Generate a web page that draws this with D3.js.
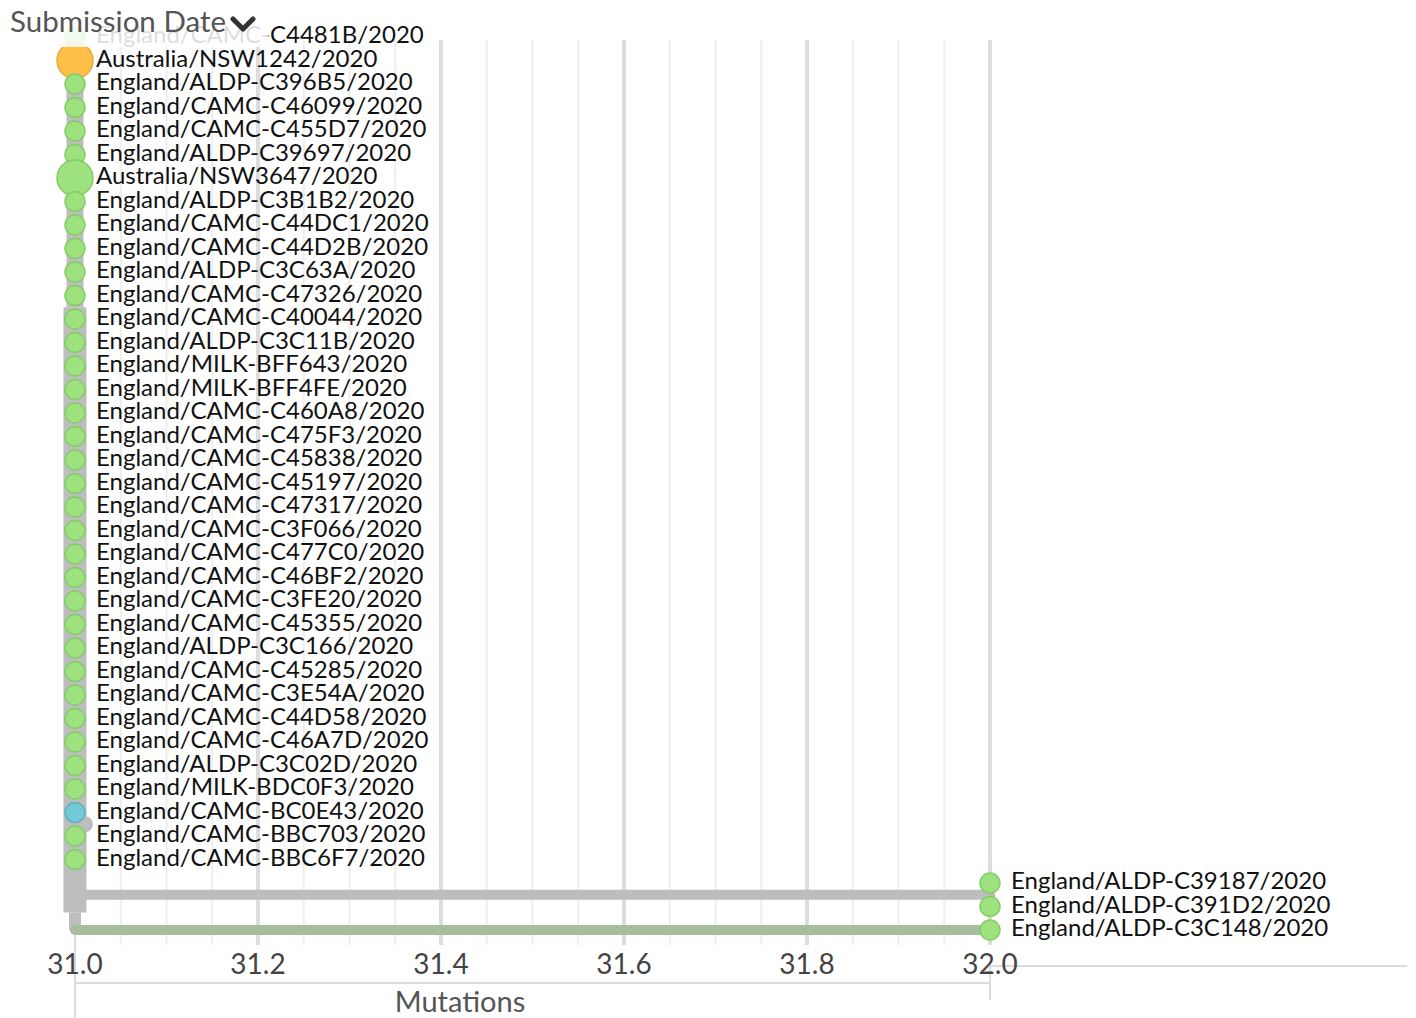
<!DOCTYPE html>
<html>
<head>
<meta charset="utf-8">
<script src="https://cdn.jsdelivr.net/npm/d3@7"></script>
<style>
  html, body { margin: 0; padding: 0; background: #fff; }
  svg { display: block; font-family: Lato, "Open Sans", sans-serif; }
</style>
</head>
<body>
<svg id="tree" width="1416" height="1018"></svg>
<script>
// Tip strains, top to bottom in tree order
const tipNames = [
  "England/CAMC-C4481B/2020",
  "Australia/NSW1242/2020",
  "England/ALDP-C396B5/2020",
  "England/CAMC-C46099/2020",
  "England/CAMC-C455D7/2020",
  "England/ALDP-C39697/2020",
  "Australia/NSW3647/2020",
  "England/ALDP-C3B1B2/2020",
  "England/CAMC-C44DC1/2020",
  "England/CAMC-C44D2B/2020",
  "England/ALDP-C3C63A/2020",
  "England/CAMC-C47326/2020",
  "England/CAMC-C40044/2020",
  "England/ALDP-C3C11B/2020",
  "England/MILK-BFF643/2020",
  "England/MILK-BFF4FE/2020",
  "England/CAMC-C460A8/2020",
  "England/CAMC-C475F3/2020",
  "England/CAMC-C45838/2020",
  "England/CAMC-C45197/2020",
  "England/CAMC-C47317/2020",
  "England/CAMC-C3F066/2020",
  "England/CAMC-C477C0/2020",
  "England/CAMC-C46BF2/2020",
  "England/CAMC-C3FE20/2020",
  "England/CAMC-C45355/2020",
  "England/ALDP-C3C166/2020",
  "England/CAMC-C45285/2020",
  "England/CAMC-C3E54A/2020",
  "England/CAMC-C44D58/2020",
  "England/CAMC-C46A7D/2020",
  "England/ALDP-C3C02D/2020",
  "England/MILK-BDC0F3/2020",
  "England/CAMC-BC0E43/2020",
  "England/CAMC-BBC703/2020",
  "England/CAMC-BBC6F7/2020",
  "England/ALDP-C39187/2020",
  "England/ALDP-C391D2/2020",
  "England/ALDP-C3C148/2020"
];

// Divergence (number of mutations) of each tip
const tipMutations = [
  31, 31, 31, 31, 31, 31, 31, 31, 31, 31,
  31, 31, 31, 31, 31, 31, 31, 31, 31, 31,
  31, 31, 31, 31, 31, 31, 31, 31, 31, 31,
  31, 31, 31, 31, 31, 31, 32, 32, 32
];

// Submission date bin used for colouring each tip
const tipDateBin = [
  "late", "mid", "late", "late", "late", "late", "late", "late", "late", "late",
  "late", "late", "late", "late", "late", "late", "late", "late", "late", "late",
  "late", "late", "late", "late", "late", "late", "late", "late", "late", "late",
  "late", "late", "late", "early", "late", "late", "late", "late", "late"
];

const dateBins = ["early", "mid", "late"];
const dateBinFill = ["#74c9d6", "#fdbf48", "#9de27f"];
const dateBinStroke = ["#5fb1be", "#eaa73a", "#84cc68"];

// Tips currently emphasised (drawn larger)
const emphasisedTips = ["Australia/NSW1242/2020", "Australia/NSW3647/2020"];

// Internal clades: index range of their tips in tree order, and divergence of the node
const cladeNodes = [
  { name: "upper", first: 0, last: 11, mutations: 31 },
  { name: "main", first: 12, last: 35, mutations: 31 },
  { name: "pairBC", first: 33, last: 34, mutations: 31 },
  { name: "pair32", first: 36, last: 37, mutations: 31 },
  { name: "single32", first: 38, last: 38, mutations: 31 }
];

const xTicks = [31.0, 31.2, 31.4, 31.6, 31.8, 32.0];
const xAxisTitle = "Mutations";
const colorByTitle = "Submission Date";

// ---- drawing ----
const svg = d3.select("#tree");
const x = d3.scaleLinear().domain([31, 32]).range([75, 990]);
const y = d3.scaleLinear().domain([0, tipNames.length - 1]).range([37, 930]);
const fill = d3.scaleOrdinal().domain(dateBins).range(dateBinFill);
const stroke = d3.scaleOrdinal().domain(dateBins).range(dateBinStroke);

const tips = tipNames.map((name, i) => ({
  name, i, mut: tipMutations[i], bin: tipDateBin[i],
  big: emphasisedTips.includes(name)
}));

// grid
const grid = svg.append("g");
const minor = d3.range(31.05, 32.001, 0.05).filter(v => Math.abs(v * 5 - Math.round(v * 5)) > 1e-6);
grid.selectAll("line.minor").data(minor).join("line")
  .attr("x1", d => x(d)).attr("x2", d => x(d))
  .attr("y1", 40).attr("y2", 945)
  .attr("stroke", "#eeeeee").attr("stroke-width", 2);
grid.selectAll("line.major").data(xTicks.slice(1)).join("line")
  .attr("x1", d => x(d)).attr("x2", d => x(d))
  .attr("y1", 40).attr("y2", 945)
  .attr("stroke", "#dddddd").attr("stroke-width", 4);

// axis lines and labels
const axis = svg.append("g").attr("stroke", "#dcdcdc").attr("stroke-width", 2);
axis.append("line").attr("x1", x(31)).attr("x2", x(31)).attr("y1", 935).attr("y2", 1018);
axis.append("line").attr("x1", x(31)).attr("x2", x(32)).attr("y1", 983).attr("y2", 983);
axis.append("line").attr("x1", x(32)).attr("x2", 1407).attr("y1", 966).attr("y2", 966);
axis.append("line").attr("x1", x(32)).attr("x2", x(32)).attr("y1", 966).attr("y2", 1000);

svg.append("g").selectAll("text").data(xTicks).join("text")
  .attr("x", d => x(d)).attr("y", 974)
  .attr("text-anchor", "middle")
  .attr("font-size", 28).attr("fill", "#444")
  .text(d => d3.format(".1f")(d));

svg.append("text")
  .attr("x", 460).attr("y", 1012)
  .attr("text-anchor", "middle")
  .attr("font-size", 29).attr("fill", "#555")
  .text(xAxisTitle);

// branches
const branches = svg.append("g").attr("fill", "none").attr("stroke-linecap", "round");
const branchGrey = "#bdbdbd";
const cUpper = cladeNodes[0], cMain = cladeNodes[1], cBC = cladeNodes[2], c32 = cladeNodes[3], cSingle = cladeNodes[4];
const y32 = (y(c32.first) + y(c32.last)) / 2;
const yRoot = (y32 + y(cSingle.first)) / 2;

branches.append("line")
  .attr("x1", x(cUpper.mutations)).attr("x2", x(cUpper.mutations))
  .attr("y1", y(cUpper.first)).attr("y2", y(cUpper.last + 0.5))
  .attr("stroke", branchGrey).attr("stroke-width", 17).attr("stroke-linecap", "butt");
branches.append("line")
  .attr("x1", x(cMain.mutations)).attr("x2", x(cMain.mutations))
  .attr("y1", y(cMain.first - 0.5)).attr("y2", yRoot)
  .attr("stroke", branchGrey).attr("stroke-width", 23).attr("stroke-linecap", "butt");
branches.append("line")
  .attr("x1", x(31)).attr("x2", x(31))
  .attr("y1", yRoot).attr("y2", y(cSingle.first))
  .attr("stroke", branchGrey).attr("stroke-width", 12).attr("stroke-linecap", "butt");
// small clade stub
const yBC = (y(cBC.first) + y(cBC.last)) / 2;
branches.append("line")
  .attr("x1", x(cBC.mutations)).attr("x2", x(cBC.mutations) + 10)
  .attr("y1", yBC).attr("y2", yBC)
  .attr("stroke", branchGrey).attr("stroke-width", 16);
// clade reaching 32 mutations
branches.append("line")
  .attr("x1", x(c32.mutations)).attr("x2", x(tipMutations[c32.first]))
  .attr("y1", y32).attr("y2", y32)
  .attr("stroke", branchGrey).attr("stroke-width", 10).attr("stroke-linecap", "butt");
branches.append("line")
  .attr("x1", x(tipMutations[c32.first])).attr("x2", x(tipMutations[c32.first]))
  .attr("y1", y(c32.first)).attr("y2", y(c32.last))
  .attr("stroke", branchGrey).attr("stroke-width", 10);
// single tip branch, coloured by its tip
branches.append("line")
  .attr("x1", x(cSingle.mutations)).attr("x2", x(tipMutations[cSingle.first]))
  .attr("y1", y(cSingle.first)).attr("y2", y(cSingle.first))
  .attr("stroke", "#a7bd9d").attr("stroke-width", 10);

// tips
const tipG = svg.append("g");
tipG.selectAll("circle").data(tips).join("circle")
  .attr("cx", d => x(d.mut)).attr("cy", d => y(d.i))
  .attr("r", d => d.big ? 18 : 10)
  .attr("fill", d => fill(d.bin))
  .attr("stroke", d => stroke(d.bin))
  .attr("stroke-width", 1.5);

tipG.selectAll("text").data(tips).join("text")
  .attr("x", d => x(d.mut) + 21).attr("y", d => y(d.i) + 6)
  .attr("font-size", 24).attr("fill", "#111")
  .text(d => d.name);

// colour-by header sitting over the top of the tree
svg.append("rect").attr("x", 0).attr("y", 0).attr("width", 268).attr("height", 47)
  .attr("fill", "#fff").attr("opacity", 0.86);
svg.append("text").attr("x", 10).attr("y", 32)
  .attr("font-size", 29.5).attr("fill", "#555")
  .text(colorByTitle);
svg.append("path")
  .attr("d", "M233,19 L243,29 L253,19")
  .attr("fill", "none").attr("stroke", "#333").attr("stroke-width", 5)
  .attr("stroke-linecap", "round").attr("stroke-linejoin", "round");
</script>
</body>
</html>
